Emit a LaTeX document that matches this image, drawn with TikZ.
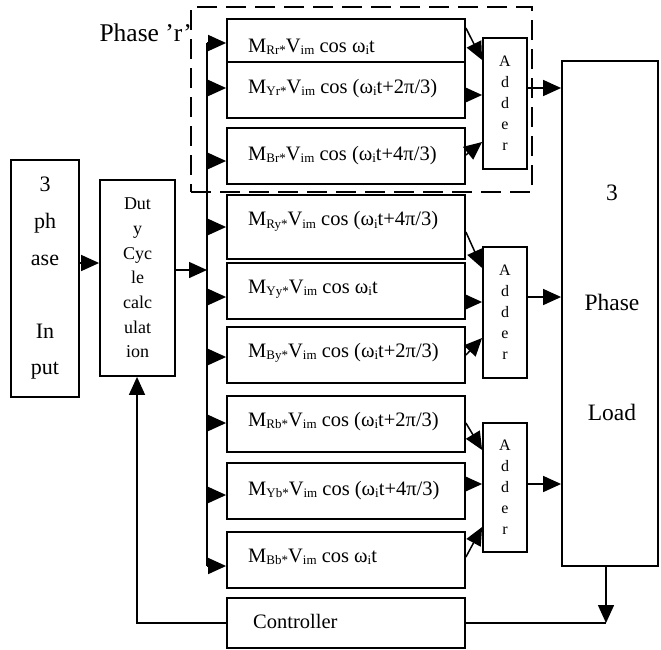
\documentclass[tikz,border=0pt]{standalone}
\usepackage{fontspec}
\setmainfont{Liberation Serif}
\usetikzlibrary{arrows.meta,calc}
\newcommand\sbx[1]{\raisebox{-0.3ex}{\fontsize{13}{13}\selectfont #1}}
\newcommand\mlab[2]{M\sbx{#1}V\sbx{im} cos #2}
\begin{document}
\begin{tikzpicture}[x=1pt,y=-1pt,
  box/.style={draw, line width=1.8pt, inner sep=0pt},
  conn/.style={line width=1.5pt},
  arr/.style={conn, -{Triangle[length=18pt,width=16pt]}},
  lab/.style={inner sep=0pt, font=\fontsize{20.5}{24}\selectfont},
  mbox/.style={box, minimum width=238pt},
  addbox/.style={box, minimum width=44pt, align=center, font=\fontsize{16}{21}\selectfont}]
\useasboundingbox (0,0) rectangle (661,649);

% dashed phase r region
\node[draw, line width=1.8pt, dash pattern=on 20pt off 9pt, minimum width=341pt, minimum height=185pt, inner sep=0pt] (phr) at (361.5,99.5) {};
\node[inner sep=0pt, anchor=base east, font=\fontsize{25.5}{28}\selectfont] (phl) at (192,41) {Phase ’r’};

% input and duty
\node[box, minimum width=68pt, minimum height=237pt, align=center, font=\fontsize{22}{36.6}\selectfont] (inp) at (45,278.5) {3\\ph\\ase\\[36.6pt]In\\put};
\node[box, minimum width=75pt, minimum height=196pt, align=center, font=\fontsize{18}{24.7}\selectfont] (duty) at (137.5,278) {Dut\\y\\Cyc\\le\\calc\\ulat\\ion};

% modulating boxes
\node[mbox, minimum height=43pt] (b1) at (346,40.5) {};
\node[mbox, minimum height=56pt] (b2) at (346,90) {};
\node[mbox, minimum height=56pt] (b3) at (346,156) {};
\node[mbox, minimum height=64pt] (b4) at (346,227) {};
\node[mbox, minimum height=56pt] (b5) at (346,291) {};
\node[mbox, minimum height=56pt] (b6) at (346,355) {};
\node[mbox, minimum height=56pt] (b7) at (346,424) {};
\node[mbox, minimum height=56pt] (b8) at (346,491) {};
\node[mbox, minimum height=56pt] (b9) at (346,560) {};
\node[mbox, minimum height=50pt] (ctrl) at (346,623) {};

\node[lab, anchor=base west] (t1) at (248,52) {\mlab{Rr*}{ω\sbx{i}t}};
\node[lab, anchor=base west] (t2) at (248,93) {\mlab{Yr*}{(ω\sbx{i}t+2π/3)}};
\node[lab, anchor=base west] (t3) at (248,160) {\mlab{Br*}{(ω\sbx{i}t+4π/3)}};
\node[lab, anchor=base west] (t4) at (248,225.5) {\mlab{Ry*}{(ω\sbx{i}t+4π/3)}};
\node[lab, anchor=base west] (t5) at (248,293) {\mlab{Yy*}{ω\sbx{i}t}};
\node[lab, anchor=base west] (t6) at (248,357) {\mlab{By*}{(ω\sbx{i}t+2π/3)}};
\node[lab, anchor=base west] (t7) at (248,426) {\mlab{Rb*}{(ω\sbx{i}t+2π/3)}};
\node[lab, anchor=base west] (t8) at (248,495) {\mlab{Yb*}{(ω\sbx{i}t+4π/3)}};
\node[lab, anchor=base west] (t9) at (248,562) {\mlab{Bb*}{ω\sbx{i}t}};
\node[lab, anchor=base west] (tc) at (253,628) {Controller};

% adders
\node[addbox, minimum height=131pt] (a1) at (505,103.5) {A\\d\\d\\e\\r};
\node[addbox, minimum height=131pt] (a2) at (505,312.5) {A\\d\\d\\e\\r};
\node[addbox, minimum height=129pt] (a3) at (505,487.5) {A\\d\\d\\e\\r};

% load
\node[box, minimum width=96pt, minimum height=505pt] (load) at (610,313.5) {};
\node[inner sep=0pt, align=center, font=\fontsize{23.5}{110}\selectfont] (loadt) at (612,303) {3\\Phase\\Load};

% bus
\coordinate (bustop) at (207,43);
\coordinate (busbot) at (207,566);
\draw[conn] (bustop) -- (busbot);
\draw[arr] (inp.east |- 0,263) -- (duty.west |- 0,263);
\draw[arr] (duty.east |- 0,270) -- (bustop |- 0,270);
\draw[arr] (bustop) -- (b1.west |- bustop);
\draw[arr] (bustop |- 0,88) -- (b2.west |- 0,88);
\draw[arr] (bustop |- 0,161) -- (b3.west |- 0,161);
\draw[arr] (bustop |- 0,227) -- (b4.west |- 0,227);
\draw[arr] (bustop |- 0,297) -- (b5.west |- 0,297);
\draw[arr] (bustop |- 0,357) -- (b6.west |- 0,357);
\draw[arr] (bustop |- 0,423) -- (b7.west |- 0,423);
\draw[arr] (bustop |- 0,495) -- (b8.west |- 0,495);
\draw[arr] (busbot) -- (b9.west |- busbot);

% into adders
\draw[arr] (b1.east |- 0,28) -- (a1.west |- 0,60);
\draw[arr] (b2.east |- 0,95) -- (a1.west |- 0,95);
\draw[arr] (b3.east |- 0,155) -- (a1.west |- 0,142);
\draw[arr] (b4.east |- 0,232) -- (a2.west |- 0,268);
\draw[arr] (b5.east |- 0,302) -- (a2.west |- 0,302);
\draw[arr] (b6.east |- 0,355) -- (a2.west |- 0,338);
\draw[arr] (b7.east |- 0,423) -- (a3.west |- 0,450);
\draw[arr] (b8.east |- 0,484) -- (a3.west |- 0,484);
\draw[arr] (b9.east |- 0,557) -- (a3.west |- 0,527);

% adders to load
\draw[arr] (a1.east |- 0,88) -- (load.west |- 0,88);
\draw[arr] (a2.east |- 0,297) -- (load.west |- 0,297);
\draw[arr] (a3.east |- 0,484) -- (load.west |- 0,484);

% feedback
\coordinate (fb) at (606,623);
\coordinate (fbl) at (137,623);
\draw[arr] (load.south -| fb) -- (fb);
\draw[conn] (ctrl.east) -- (fb);
\draw[arr] (ctrl.west) -- (fbl) -- (duty.south -| fbl);
\end{tikzpicture}
\end{document}
